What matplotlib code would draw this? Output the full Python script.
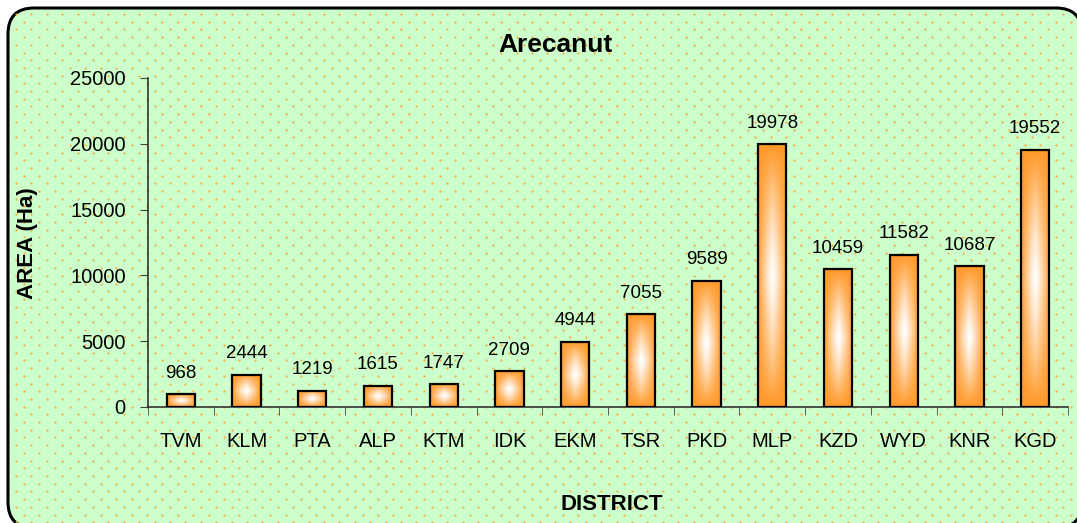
"""Arecanut area by district, bar chart with gradient bars."""

import matplotlib

matplotlib.use("Agg")

import matplotlib.pyplot as plt
import numpy as np
from matplotlib.patches import FancyBboxPatch

districts = ["TVM", "KLM", "PTA", "ALP", "KTM", "IDK", "EKM",
             "TSR", "PKD", "MLP", "KZD", "WYD", "KNR", "KGD"]
area_ha = [968, 2444, 1219, 1615, 1747, 2709, 4944,
           7055, 9589, 19978, 10459, 11582, 10687, 19552]
y_ticks = [0, 5000, 10000, 15000, 20000, 25000]

W, H = 1077, 523
ORANGE = np.array([1.0, 0.6, 0.16])
WHITE = np.array([1.0, 1.0, 1.0])

plt.rcParams["font.family"] = ["Liberation Sans", "DejaVu Sans"]

fig = plt.figure(figsize=(W / 100, H / 100), dpi=100)
fig.patch.set_facecolor("white")

# background panel with rounded border and dotted pattern
bg = fig.add_axes([0, 0, 1, 1])
bg.set_xlim(0, W)
bg.set_ylim(H, 0)
bg.axis("off")
panel = FancyBboxPatch((8, 8), 1074, 520, boxstyle="round,pad=0,rounding_size=26",
                       facecolor="#ccffcc", edgecolor="black", linewidth=2.2, zorder=1)
bg.add_patch(panel)
dx, dy = 15.4, 7.7
rows = np.arange(14, H + 10, dy)
px, py = [], []
for i, yy in enumerate(rows):
    xs = np.arange(16 + (dx / 2 if i % 2 else 0), W + 10, dx)
    px.extend(xs)
    py.extend([yy] * len(xs))
dots = bg.scatter(px, py, s=2.6, color="#f6ad3c", linewidths=0, zorder=2)
dots.set_clip_path(panel)

# main plot area
x0, x1, ytop, ybot = 148, 1068, 78, 407
ax = fig.add_axes([x0 / W, (H - ybot) / H, (x1 - x0) / W, (ybot - ytop) / H])
ax.patch.set_alpha(0)

# gradient image: white centre fading to orange at the edges
u = np.abs(np.linspace(-1, 1, 40))
v = np.abs(np.linspace(-1, 1, 80))
t = 1 - np.outer(1 - v, 1 - u)
t = np.clip(t, 0, 1) ** 1.4
grad = WHITE * (1 - t[..., None]) + ORANGE * t[..., None]

width = 0.43
xpos = np.arange(len(districts))
bars = ax.bar(xpos, area_ha, width=width, facecolor="none", edgecolor="black",
              linewidth=1.6, zorder=3)
for b, val in zip(bars, area_ha):
    bx = b.get_x()
    im = ax.imshow(grad, extent=(bx, bx + width, 0, val), aspect="auto",
                   origin="lower", zorder=2, interpolation="bilinear")
    im.set_clip_path(b)
    ax.annotate(str(val), (b.get_x() + width / 2, val), textcoords="offset points",
                xytext=(0, 9), ha="center", va="bottom", fontsize=13.5)

ax.set_xlim(-0.5, len(districts) - 0.5)
ax.set_ylim(0, 25000)
ax.set_yticks(y_ticks)
ax.set_yticklabels([str(v) for v in y_ticks], fontsize=14.5)
ax.set_xticks(xpos)
ax.set_xticklabels(districts, fontsize=14.5)
ax.tick_params(axis="x", length=0, pad=18)
ax.set_xticks(np.arange(-0.5, len(districts), 1), minor=True)
ax.tick_params(axis="x", which="minor", length=6, direction="out", color="#444444")
ax.tick_params(axis="y", length=6, direction="out", color="#444444", pad=10)
for side in ("top", "right"):
    ax.spines[side].set_visible(False)
for side in ("left", "bottom"):
    ax.spines[side].set_color("#333333")
    ax.spines[side].set_linewidth(1.2)

fig.text(555 / W, 1 - 45 / H, "Arecanut", ha="center", va="center",
         fontsize=19, fontweight="bold")
fig.text(612 / W, 1 - 505 / H, "DISTRICT", ha="center", va="center",
         fontsize=16, fontweight="bold")
fig.text(28 / W, 1 - 243 / H, "AREA (Ha)", ha="center", va="center",
         rotation=90, fontsize=16, fontweight="bold")

fig.savefig("out.png", dpi=100)
